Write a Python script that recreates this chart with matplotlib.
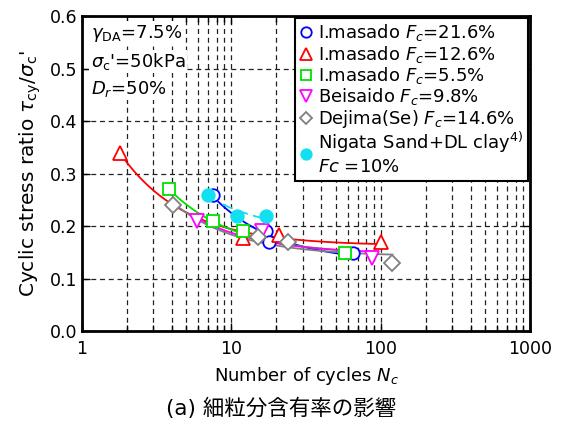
import matplotlib
matplotlib.use("Agg")
import matplotlib.pyplot as plt
from matplotlib.lines import Line2D
from matplotlib.ticker import LogLocator, NullFormatter, FixedFormatter, FixedLocator
import numpy as np

plt.rcParams['font.family'] = ['DejaVu Sans', 'Noto Sans CJK JP']
plt.rcParams['mathtext.fontset'] = 'dejavusans'

# cyclic test results: number of cycles Nc and stress ratio for each sample
masado216_n = [7.5, 17, 18, 65]
masado216_r = [0.26, 0.19, 0.17, 0.15]

masado126_n = [1.8, 12, 21, 100]
masado126_r = [0.34, 0.178, 0.184, 0.17]

masado55_n = [3.8, 7.5, 12, 58]
masado55_r = [0.27, 0.21, 0.19, 0.15]

beisaido_n = [5.9, 16, 88]
beisaido_r = [0.21, 0.19, 0.14]

dejima_n = [4.1, 15, 24, 120]
dejima_r = [0.24, 0.18, 0.17, 0.13]

nigata_n = [7, 11, 17]
nigata_r = [0.26, 0.22, 0.22]

labels = [r"I.masado $F_c$=21.6%",
          r"I.masado $F_c$=12.6%",
          r"I.masado $F_c$=5.5%",
          r"Beisaido $F_c$=9.8%",
          r"Dejima(Se) $F_c$=14.6%",
          "Nigata Sand+DL clay$^{4)}$\n$Fc$ =10%"]

x_ticks = [1, 10, 100, 1000]
x_ticklabels = ["1", "10", "100", "1000"]
y_ticks = [0.0, 0.1, 0.2, 0.3, 0.4, 0.5, 0.6]

series = [
    (masado216_n, masado216_r, dict(color="#0000FF", marker="o", ms=9, mfc="white", ls="-")),
    (masado126_n, masado126_r, dict(color="#FF0000", marker="^", ms=10, mfc="white", ls="-")),
    (masado55_n, masado55_r, dict(color="#00E000", marker="s", ms=8.5, mfc="white", ls="-")),
    (beisaido_n, beisaido_r, dict(color="#FF00FF", marker="v", ms=10, mfc="white", ls="-")),
    (dejima_n, dejima_r, dict(color="#808080", marker="D", ms=8, mfc="white", ls="-")),
    (nigata_n, nigata_r, dict(color="#10E0F0", marker="o", ms=9, mfc="#10E0F0", ls=(0, (6, 3)))),
]

fig = plt.figure(figsize=(5.63, 4.28), dpi=100)
ax = fig.add_axes([0.1456, 0.2259, 0.7958, 0.7365])

handles = []
for n, r, st in series:
    n = np.array(n, dtype=float)
    r = np.array(r, dtype=float)
    # hyperbolic trend line  r = a + b / Nc
    b, a = np.polyfit(1.0 / n, r, 1)
    nn = np.geomspace(n.min(), n.max(), 200)
    ax.plot(nn, a + b / nn, color=st["color"], lw=1.3, ls=st["ls"], zorder=3)
    ax.plot(n, r, ls="none", marker=st["marker"], ms=st["ms"], mfc=st["mfc"],
            mec=st["color"], mew=1.3, zorder=4)
    handles.append(Line2D([], [], ls="none", marker=st["marker"], ms=st["ms"] - 1.5,
                          mfc=st["mfc"], mec=st["color"], mew=1.3))

ax.set_xscale("log")
ax.set_xlim(1, 1000)
ax.set_ylim(0, 0.6)
ax.xaxis.set_major_locator(FixedLocator(x_ticks))
ax.xaxis.set_major_formatter(FixedFormatter(x_ticklabels))
ax.xaxis.set_minor_locator(LogLocator(base=10, subs=np.arange(2, 10)))
ax.xaxis.set_minor_formatter(NullFormatter())
ax.set_yticks(y_ticks)
ax.set_yticklabels([f"{v:.1f}" for v in y_ticks])

ax.tick_params(which="both", direction="in", top=True, right=True, labelsize=12.5, colors="black")
ax.tick_params(which="major", length=6, width=1)
ax.tick_params(which="minor", length=4, width=1)
ax.tick_params(axis="x", pad=6)

ax.xaxis.grid(True, which="both", ls=(0, (4, 3)), color="#222222", lw=0.9)
ax.yaxis.grid(True, which="major", ls=(0, (4, 3)), color="#222222", lw=0.9)
ax.set_axisbelow(True)

for sp in ax.spines.values():
    sp.set_linewidth(2)
    sp.set_zorder(6)

ax.set_xlabel(r"Number of cycles $N_{c}$", fontsize=13, labelpad=5)
ax.set_ylabel(r"Cyclic stress ratio $\tau_{\rm cy}/\sigma_{\rm c}$'", fontsize=14.5, labelpad=5)

# test conditions
cond = [r"$\gamma_{\rm DA}$=7.5%", r"$\sigma_{\rm c}$'=50kPa", r"$D_r$=50%"]
for txt, yy in zip(cond, [0.946, 0.856, 0.77]):
    ax.text(0.02, yy, txt, transform=ax.transAxes, fontsize=13, va="center", ha="left",
            bbox=dict(facecolor="white", edgecolor="none", pad=1), zorder=5)

leg = ax.legend(handles, labels, loc="upper right", fontsize=13, frameon=True, fancybox=False,
                borderaxespad=0.1, handlelength=0.7, handletextpad=0.35, labelspacing=0.02,
                borderpad=0.25, framealpha=1, handleheight=0.6)
leg.get_frame().set_edgecolor("black")
leg.get_frame().set_linewidth(1.5)
leg.set_zorder(7)

fig.text(0.5, 0.047, "(a) 細粒分含有率の影響", fontsize=15.5, ha="center", va="center")

fig.savefig("out.png", dpi=100)
